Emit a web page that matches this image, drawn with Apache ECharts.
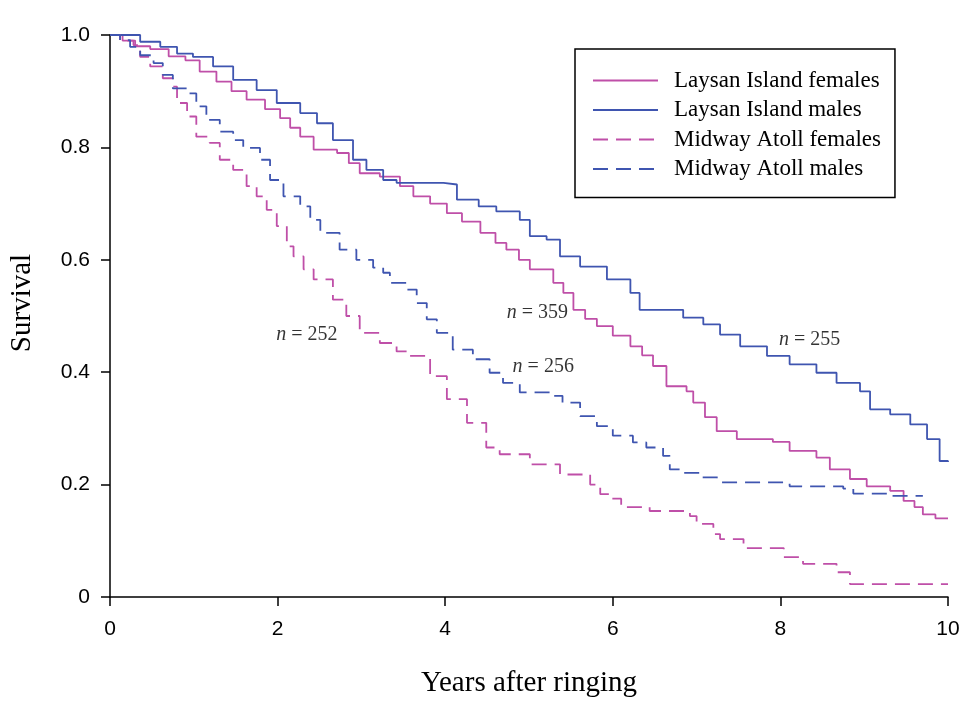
<!DOCTYPE html>
<html>
<head>
<meta charset="utf-8">
<script src="https://cdn.jsdelivr.net/npm/echarts@6/dist/echarts.min.js"></script>
<style>
  html, body { margin: 0; padding: 0; background: #fff; }
  #chart { width: 969px; height: 703px; }
</style>
</head>
<body>
<div id="chart"></div>
<script>
// Kaplan-Meier survival, [years, survival]
const laysanFemales = [
  [0, 1], [0.15, 0.99], [0.3, 0.98], [0.48, 0.975], [0.7, 0.962], [0.9, 0.955],
  [1.07, 0.935], [1.27, 0.917], [1.45, 0.9], [1.63, 0.885], [1.85, 0.868], [2.03, 0.852],
  [2.15, 0.835], [2.27, 0.819], [2.43, 0.796], [2.71, 0.79], [2.85, 0.772], [2.98, 0.754],
  [3.22, 0.748], [3.46, 0.731], [3.62, 0.713], [3.82, 0.7], [4.02, 0.683], [4.2, 0.668],
  [4.42, 0.648], [4.6, 0.63], [4.73, 0.618], [4.88, 0.6], [5.01, 0.583], [5.29, 0.559],
  [5.41, 0.541], [5.53, 0.511], [5.67, 0.495], [5.81, 0.482], [6.0, 0.465], [6.21, 0.446],
  [6.35, 0.43], [6.48, 0.411], [6.64, 0.375], [6.88, 0.366], [6.96, 0.346], [7.1, 0.32],
  [7.24, 0.295], [7.48, 0.281], [7.91, 0.276], [8.11, 0.26], [8.43, 0.248], [8.59, 0.227],
  [8.83, 0.21], [9.03, 0.197], [9.31, 0.189], [9.47, 0.171], [9.6, 0.16], [9.7, 0.147],
  [9.85, 0.14], [10, 0.139]
]
const laysanMales = [
  [0, 1], [0.16, 1], [0.36, 0.988], [0.6, 0.979], [0.8, 0.967], [0.99, 0.961],
  [1.23, 0.944], [1.47, 0.92], [1.75, 0.902], [1.99, 0.879], [2.27, 0.861], [2.47, 0.843],
  [2.66, 0.813], [2.9, 0.778], [3.06, 0.76], [3.26, 0.742], [3.42, 0.737], [3.98, 0.734],
  [4.14, 0.707], [4.4, 0.695], [4.61, 0.686], [4.89, 0.671], [5.01, 0.642], [5.21, 0.636],
  [5.37, 0.606], [5.61, 0.588], [5.93, 0.565], [6.21, 0.541], [6.32, 0.511], [6.84, 0.497],
  [7.08, 0.485], [7.28, 0.467], [7.52, 0.446], [7.84, 0.429], [8.11, 0.414], [8.43, 0.399],
  [8.67, 0.381], [8.95, 0.366], [9.07, 0.334], [9.31, 0.325], [9.55, 0.307], [9.75, 0.281],
  [9.9, 0.242], [10, 0.24]
]
const midwayFemales = [
  [0, 1], [0.12, 0.99], [0.28, 0.982], [0.36, 0.961], [0.48, 0.944], [0.63, 0.923],
  [0.75, 0.908], [0.8, 0.879], [0.92, 0.855], [1.03, 0.819], [1.19, 0.808], [1.31, 0.778],
  [1.47, 0.76], [1.63, 0.731], [1.75, 0.713], [1.87, 0.689], [1.99, 0.66], [2.11, 0.624],
  [2.19, 0.606], [2.31, 0.583], [2.43, 0.565], [2.66, 0.529], [2.82, 0.5], [2.98, 0.47],
  [3.22, 0.452], [3.42, 0.437], [3.54, 0.429], [3.82, 0.393], [4.02, 0.352], [4.26, 0.31],
  [4.49, 0.266], [4.65, 0.254], [5.01, 0.236], [5.37, 0.218], [5.73, 0.2], [5.85, 0.183],
  [5.97, 0.175], [6.1, 0.16], [6.44, 0.153], [6.92, 0.144], [7.0, 0.13], [7.2, 0.112],
  [7.28, 0.103], [7.56, 0.087], [8.04, 0.071], [8.27, 0.059], [8.67, 0.044], [8.83, 0.023],
  [10, 0.023]
]
const midwayMales = [
  [0, 1], [0.12, 0.991], [0.24, 0.979], [0.36, 0.964], [0.52, 0.95], [0.63, 0.929],
  [0.75, 0.905], [0.92, 0.896], [1.03, 0.873], [1.15, 0.849], [1.31, 0.828], [1.47, 0.813],
  [1.59, 0.799], [1.79, 0.778], [1.91, 0.742], [2.07, 0.713], [2.27, 0.695], [2.39, 0.671],
  [2.51, 0.648], [2.74, 0.618], [2.94, 0.6], [3.14, 0.586], [3.26, 0.577], [3.34, 0.559],
  [3.54, 0.547], [3.66, 0.523], [3.78, 0.494], [3.9, 0.47], [4.09, 0.44], [4.33, 0.423],
  [4.53, 0.399], [4.69, 0.381], [4.89, 0.364], [5.29, 0.358], [5.4, 0.346], [5.61, 0.322],
  [5.81, 0.304], [6.0, 0.287], [6.24, 0.275], [6.4, 0.266], [6.6, 0.251], [6.68, 0.227],
  [6.84, 0.221], [7.04, 0.213], [7.24, 0.21], [7.3, 0.204], [8.11, 0.197], [8.75, 0.193],
  [8.87, 0.184], [9.3, 0.18], [9.7, 0.179]
]

const seriesNames = ['Laysan Island females', 'Laysan Island males', 'Midway Atoll females', 'Midway Atoll males']
// sample sizes written beside the curves: [x, y, n]
const sampleLabels = [[2.35, 0.467, 252], [5.1, 0.506, 359], [5.17, 0.409, 256], [8.35, 0.458, 255]]

const magenta = '#bf4fa8'
const blue = '#3f55b0'
const serif = '"Liberation Serif", "Times New Roman", serif'
const sans = '"Liberation Sans", Arial, sans-serif'

const chart = echarts.init(document.getElementById('chart'))

const kmLine = (name, data, color, dashed) => ({
  name,
  type: 'line',
  step: 'end',
  data,
  showSymbol: false,
  symbol: 'none',
  symbolSize: 0,
  lineStyle: { color, width: 1.8, type: dashed ? [15, 8] : 'solid' },
  itemStyle: { color },
  silent: true
})

chart.setOption({
  animation: false,
  backgroundColor: '#fff',
  grid: { left: 110, right: 21, top: 35, bottom: 105 },
  xAxis: {
    type: 'value',
    min: 0,
    max: 10,
    interval: 2,
    name: 'Years after ringing',
    nameLocation: 'middle',
    nameGap: 72,
    nameTextStyle: { fontFamily: serif, fontSize: 29, color: '#000' },
    axisLine: { lineStyle: { color: '#000', width: 1.5 } },
    axisTick: { length: 9, lineStyle: { color: '#000', width: 1.5 } },
    axisLabel: { color: '#000', fontFamily: sans, fontSize: 21, margin: 22 },
    splitLine: { show: false }
  },
  yAxis: {
    type: 'value',
    min: 0,
    max: 1,
    interval: 0.2,
    axisLine: { show: true, lineStyle: { color: '#000', width: 1.5 } },
    axisTick: { show: true, length: 9, lineStyle: { color: '#000', width: 1.5 } },
    axisLabel: {
      color: '#000', fontFamily: sans, fontSize: 21, margin: 20,
      formatter: v => v === 0 ? '0' : v.toFixed(1)
    },
    splitLine: { show: false }
  },
  legend: {
    data: seriesNames,
    orient: 'vertical',
    left: 575,
    top: 49,
    padding: [20, 14, 17, 17],
    borderColor: '#000',
    borderWidth: 1.5,
    itemWidth: 65,
    itemHeight: 14,
    itemGap: 6.5,
    selectedMode: false,
    itemStyle: { opacity: 0 },
    textStyle: { fontFamily: serif, fontSize: 23, color: '#000', padding: [0, 0, 0, 11] }
  },
  graphic: [{
    type: 'text',
    x: 22,
    y: 303,
    rotation: Math.PI / 2,
    style: {
      text: 'Survival',
      fontFamily: serif,
      fontSize: 29,
      fill: '#000',
      align: 'center',
      verticalAlign: 'middle'
    }
  }],
  series: [
    kmLine(seriesNames[0], laysanFemales, magenta, false),
    kmLine(seriesNames[1], laysanMales, blue, false),
    kmLine(seriesNames[2], midwayFemales, magenta, true),
    kmLine(seriesNames[3], midwayMales, blue, true),
    {
      type: 'scatter',
      data: sampleLabels,
      symbolSize: 0,
      silent: true,
      label: {
        show: true,
        position: 'inside',
        formatter: p => '{i|n} = ' + p.value[2],
        fontFamily: serif,
        fontSize: 20,
        color: '#000',
        rich: { i: { fontFamily: serif, fontSize: 20, fontStyle: 'italic', color: '#000' } }
      }
    }
  ]
})
</script>
</body>
</html>
